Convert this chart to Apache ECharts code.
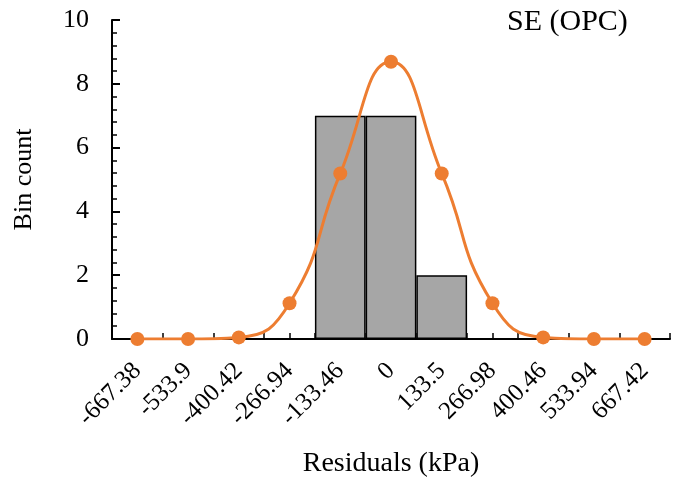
<!DOCTYPE html>
<html>
<head>
<meta charset="utf-8">
<script src="https://cdn.jsdelivr.net/npm/echarts@6/dist/echarts.min.js"></script>
<style>
  html, body { margin: 0; padding: 0; background: #fff; }
  #chart { width: 689px; height: 483px; }
</style>
</head>
<body>
<div id="chart"></div>
<script>
  // bin centres (kPa)
  var bins = ['-667.38', '-533.9', '-400.42', '-266.94', '-133.46', '0', '133.5', '266.98', '400.46', '533.94', '667.42'];
  // histogram counts
  var counts = [0, 0, 0, 0, 7, 7, 2, 0, 0, 0, 0];
  // fitted normal curve
  var fitted = [0, 0, 0.05, 1.12, 5.19, 8.69, 5.19, 1.12, 0.05, 0, 0];

  var font = '"Liberation Serif", "Times New Roman", serif';

  var myChart = echarts.init(document.getElementById('chart'));

  var option = {
    animation: false,
    textStyle: { fontFamily: font },
    title: {
      text: 'SE (OPC)',
      left: 502,
      top: 2,
      textStyle: { fontFamily: font, fontSize: 30, fontWeight: 'normal', color: '#000' }
    },
    grid: { left: 112, right: 19, top: 20, bottom: 143 },
    xAxis: [{
      type: 'category',
      data: bins,
      boundaryGap: true,
      name: 'Residuals (kPa)',
      nameLocation: 'middle',
      nameGap: 111,
      nameTextStyle: { fontFamily: font, fontSize: 28, color: '#000' },
      axisLine: { lineStyle: { color: '#000', width: 2 } },
      axisTick: { show: true, inside: true, length: 6, lineStyle: { color: '#000', width: 1.5 } },
      axisLabel: { rotate: 45, margin: 28, fontSize: 25, color: '#000', fontFamily: font, interval: 0 },
      splitLine: { show: false }
    }, {
      // extra ticks at the bin centres
      type: 'category',
      data: bins,
      position: 'bottom',
      boundaryGap: true,
      axisLine: { show: false },
      axisTick: { show: true, inside: true, alignWithLabel: true, length: 6, lineStyle: { color: '#000', width: 1.5 } },
      axisLabel: { show: false },
      splitLine: { show: false }
    }],
    yAxis: {
      type: 'value',
      min: 0,
      max: 10,
      interval: 2,
      name: 'Bin count',
      nameLocation: 'middle',
      nameGap: 75,
      nameTextStyle: { fontFamily: font, fontSize: 26, color: '#000' },
      axisLine: { show: true, lineStyle: { color: '#000', width: 2 } },
      axisTick: { show: true, inside: true, length: 8, lineStyle: { color: '#000', width: 2 } },
      minorTick: { show: true, splitNumber: 5, length: 5, lineStyle: { color: '#000', width: 1.5 } },
      axisLabel: { margin: 23, fontSize: 26, color: '#000', fontFamily: font },
      splitLine: { show: false }
    },
    series: [{
      name: 'Bin count',
      type: 'bar',
      data: counts.map(function (v) { return v === 0 ? null : v; }),
      barCategoryGap: '0%',
      itemStyle: { color: '#a6a6a6', borderColor: '#000', borderWidth: 1.5 },
      z: 1
    }, {
      name: 'Normal fit',
      type: 'line',
      data: fitted,
      smooth: 0.5,
      symbol: 'circle',
      symbolSize: 14,
      lineStyle: { color: '#ed7d31', width: 3 },
      itemStyle: { color: '#ed7d31' },
      z: 3
    }]
  };

  myChart.setOption(option);
</script>
</body>
</html>
